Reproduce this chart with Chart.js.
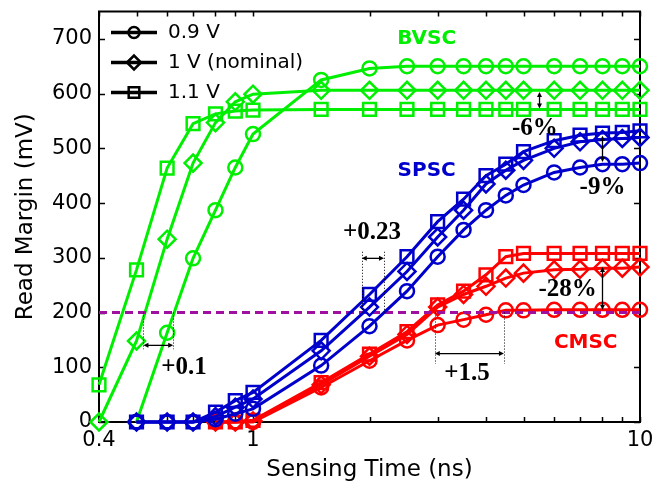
<!DOCTYPE html>
<html>
<head>
<meta charset="utf-8">
<script src="https://cdn.jsdelivr.net/npm/chart.js@4.4.0/dist/chart.umd.min.js"></script>
<style>
html, body { margin: 0; padding: 0; background: #fff; }
</style>
</head>
<body>
<canvas id="c" width="668" height="485"></canvas>
<script>
// sensing times (ns) per sense-amp type
const bvscTime = [0.4, 0.5, 0.6, 0.7, 0.8, 0.9, 1, 1.5, 2, 2.5, 3, 3.5, 4, 4.5, 5, 6, 7, 8, 9, 10];
const spscTime = [0.5, 0.6, 0.7, 0.8, 0.9, 1, 1.5, 2, 2.5, 3, 3.5, 4, 4.5, 5, 6, 7, 8, 9, 10];
const cmscTime = [0.8, 0.9, 1, 1.5, 2, 2.5, 3, 3.5, 4, 4.5, 5, 6, 7, 8, 9, 10];

// read margin (mV)
const bvsc09 = [null, 0, 163, 299, 387, 465, 526, 625, 646, 650, 650, 650, 650, 650, 650, 650, 650, 650, 650, 650];
const bvsc10 = [0, 148, 334, 473, 547, 585, 599, 606, 606, 606, 606, 606, 606, 606, 606, 606, 606, 606, 606, 606];
const bvsc11 = [68, 278, 464, 545, 563, 568, 570, 571, 571, 571, 571, 571, 571, 571, 571, 571, 571, 571, 571, 571];

const spsc09 = [0, 0, 0, 5, 15, 24, 103, 175, 239, 302, 351, 387, 414, 433, 456, 465, 471, 471, 473];
const spsc10 = [0, 0, 0, 10, 27, 42, 130, 210, 275, 338, 387, 435, 460, 478, 500, 512, 516, 518, 520];
const spsc11 = [0, 0, 0, 18, 39, 54, 149, 233, 302, 366, 407, 450, 471, 494, 514, 524, 528, 529, 532];

const cmsc09 = [0, 0, 0, 63, 112, 149, 177, 187, 196, 204, 204, 205, 205, 205, 205, 205];
const cmsc10 = [0, 0, 2, 68, 120, 160, 210, 233, 248, 263, 272, 278, 279, 281, 281, 283];
const cmsc11 = [0, 0, 3, 72, 124, 165, 214, 239, 269, 302, 308, 308, 308, 308, 308, 308];

const voltLabels = ['0.9 V', '1 V (nominal)', '1.1 V'];
const threshold = 200;

const xTicks = [0.4, 0.5, 0.6, 0.7, 0.8, 0.9, 1, 2, 3, 4, 5, 6, 7, 8, 9, 10];
const xTickLabels = ['0.4', '1', '10'];
const yTicks = [0, 100, 200, 300, 400, 500, 600, 700];

const GREEN = '#00ee00', BLUE = '#0000cc', RED = '#ff0000', PURPLE = '#a010a0';
const styles = ['circle', 'rectRot', 'rect'];
const radii = [7, 8.5, 9];

function pts(t, v) {
  return t.map((x, i) => ({ x: x, y: v[i] }));
}

function series(t, v, color, k, order) {
  return {
    data: pts(t, v),
    borderColor: color,
    borderWidth: 3,
    pointStyle: styles[k],
    pointRadius: radii[k],
    pointBorderWidth: 2.5,
    pointBorderColor: color,
    pointBackgroundColor: 'transparent',
    pointHoverRadius: radii[k],
    fill: false,
    clip: false,
    tension: 0,
    order: order
  };
}

const datasets = [
  series(bvscTime, bvsc09, GREEN, 0, 12),
  series(bvscTime, bvsc10, GREEN, 1, 11),
  series(bvscTime, bvsc11, GREEN, 2, 10),
  series(cmscTime, cmsc09, RED, 0, 9),
  series(cmscTime, cmsc10, RED, 1, 8),
  series(cmscTime, cmsc11, RED, 2, 7),
  {
    data: [{ x: 0.4, y: threshold }, { x: 10, y: threshold }],
    borderColor: PURPLE, borderWidth: 3, borderDash: [8, 5],
    pointRadius: 0, fill: false, order: 6
  },
  series(spscTime, spsc09, BLUE, 0, 5),
  series(spscTime, spsc10, BLUE, 1, 4),
  series(spscTime, spsc11, BLUE, 2, 3)
];

// box + inward ticks
const frame = {
  id: 'frame',
  beforeDatasetsDraw(chart) {
    const { ctx, chartArea: a, scales: { x, y } } = chart;
    ctx.save();
    ctx.strokeStyle = '#000';
    ctx.lineWidth = 1.5;
    ctx.beginPath();
    xTicks.forEach(v => {
      const px = Math.round(x.getPixelForValue(v)) + 0.5;
      ctx.moveTo(px, a.bottom); ctx.lineTo(px, a.bottom - 5);
      ctx.moveTo(px, a.top); ctx.lineTo(px, a.top + 5);
    });
    yTicks.forEach(v => {
      const py = Math.round(y.getPixelForValue(v)) + 0.5;
      ctx.moveTo(a.left, py); ctx.lineTo(a.left + 6, py);
      ctx.moveTo(a.right, py); ctx.lineTo(a.right - 6, py);
    });
    ctx.stroke();
    ctx.lineWidth = 2;
    ctx.strokeRect(a.left, a.top, a.right - a.left, a.bottom - a.top);
    ctx.restore();
  }
};

function arrowHead(ctx, x, y, dx, dy) {
  const s = 5, w = 2.5;
  ctx.beginPath();
  ctx.moveTo(x, y);
  ctx.lineTo(x - dx * s - dy * w, y - dy * s + dx * w);
  ctx.lineTo(x - dx * s + dy * w, y - dy * s - dx * w);
  ctx.closePath();
  ctx.fill();
}

const notes = {
  id: 'notes',
  afterDatasetsDraw(chart) {
    const { ctx, scales: { x, y } } = chart;
    const X = v => x.getPixelForValue(v), Y = v => y.getPixelForValue(v);
    ctx.save();
    ctx.strokeStyle = '#000';
    ctx.fillStyle = '#000';

    const vdot = (t, a, b) => {
      ctx.save();
      ctx.lineWidth = 1;
      ctx.setLineDash([1, 2]);
      ctx.beginPath();
      ctx.moveTo(Math.round(X(t)) + 0.5, Y(a));
      ctx.lineTo(Math.round(X(t)) + 0.5, Y(b));
      ctx.stroke();
      ctx.restore();
    };
    const harrow = (t1, t2, v) => {
      const x1 = X(t1), x2 = X(t2), py = Y(v);
      ctx.fillStyle = '#000';
      ctx.lineWidth = 1.3;
      ctx.beginPath(); ctx.moveTo(x1 + 3, py); ctx.lineTo(x2 - 3, py); ctx.stroke();
      arrowHead(ctx, x1, py, -1, 0);
      arrowHead(ctx, x2, py, 1, 0);
    };
    const varrow = (t, v1, v2) => {
      const px = X(t), y1 = Y(v1), y2 = Y(v2);
      ctx.fillStyle = '#000';
      ctx.lineWidth = 1.3;
      ctx.beginPath(); ctx.moveTo(px, y1 + 3); ctx.lineTo(px, y2 - 3); ctx.stroke();
      arrowHead(ctx, px, y1, 0, -1);
      arrowHead(ctx, px, y2, 0, 1);
    };
    const text = (s, t, v, font, color) => {
      ctx.font = font;
      ctx.fillStyle = color;
      ctx.textAlign = 'center';
      ctx.textBaseline = 'middle';
      ctx.fillText(s, X(t), Y(v));
    };

    const serif = 'bold 25px "Liberation Serif"';
    vdot(0.521, threshold, 133); vdot(0.622, threshold, 133);
    harrow(0.521, 0.622, 140);
    text('+0.1', 0.663, 100, serif, '#000');

    vdot(1.91, 311, threshold); vdot(2.18, 311, threshold);
    harrow(1.91, 2.18, 299);
    text('+0.23', 2.03, 347, serif, '#000');

    varrow(5.5, 603, 573);
    text('-6%', 5.35, 536, serif, '#000');

    varrow(8, 523, 475);
    text('-9%', 8, 429, serif, '#000');

    varrow(8, 283, 205);
    text('-28%', 6.5, 242, serif, '#000');

    vdot(2.95, threshold, 106); vdot(4.45, threshold, 106);
    harrow(2.95, 4.45, 125);
    text('+1.5', 3.57, 88, serif, '#000');

    const sans = 'bold 20px "DejaVu Sans"';
    text('BVSC', 2.81, 701, sans, GREEN);
    text('SPSC', 2.81, 459, sans, BLUE);
    text('CMSC', 7.24, 145, sans, RED);

    // legend
    const a = chart.chartArea;
    voltLabels.forEach((lab, i) => {
      const cy = a.top + 21 + i * 30;
      const x0 = a.left + 12, x1 = a.left + 58;
      ctx.strokeStyle = '#000';
      ctx.lineWidth = 3.5;
      ctx.beginPath(); ctx.moveTo(x0, cy); ctx.lineTo(x1, cy); ctx.stroke();
      ctx.lineWidth = 2.5;
      ctx.fillStyle = 'rgba(0,0,0,0)';
      Chart.helpers.drawPoint(ctx, { pointStyle: styles[i], radius: radii[i] - 1.5, borderWidth: 2.5 }, (x0 + x1) / 2, cy);
      ctx.font = '20px "DejaVu Sans"';
      ctx.fillStyle = '#000';
      ctx.textAlign = 'left';
      ctx.textBaseline = 'middle';
      ctx.fillText(lab, a.left + 69, cy);
    });
    ctx.restore();
  }
};

new Chart(document.getElementById('c'), {
  type: 'line',
  data: { datasets: datasets },
  options: {
    responsive: false,
    animation: false,
    layout: { padding: { top: 8, right: 28, left: 0, bottom: 0 } },
    plugins: { legend: { display: false }, tooltip: { enabled: false } },
    scales: {
      x: {
        type: 'logarithmic',
        min: 0.4,
        max: 10,
        afterBuildTicks: s => { s.ticks = xTicks.map(v => ({ value: v })); },
        afterFit: s => { s.height = 63; s.paddingLeft = 0; s.paddingRight = 0; },
        grid: { display: false, drawTicks: false },
        border: { display: false },
        ticks: {
          autoSkip: false,
          maxRotation: 0,
          padding: 6,
          color: '#000',
          font: { family: 'DejaVu Sans', size: 21 },
          callback: v => (xTickLabels.includes(String(v)) ? String(v) : '')
        },
        title: {
          display: true,
          text: 'Sensing Time (ns)',
          color: '#000',
          font: { family: 'DejaVu Sans', size: 23 },
          padding: { top: 0, bottom: 1 }
        }
      },
      y: {
        min: 0,
        max: 750,
        afterBuildTicks: s => { s.ticks = yTicks.map(v => ({ value: v })); },
        afterFit: s => { s.width = 99; s.paddingTop = 0; s.paddingBottom = 0; },
        grid: { display: false, drawTicks: false },
        border: { display: false },
        ticks: {
          padding: 7,
          color: '#000',
          font: { family: 'DejaVu Sans', size: 21 }
        },
        title: {
          display: true,
          text: 'Read Margin (mV)',
          color: '#000',
          font: { family: 'DejaVu Sans', size: 23 },
          padding: { top: 12, bottom: 4 }
        }
      }
    }
  },
  plugins: [frame, notes]
});
</script>
</body>
</html>
